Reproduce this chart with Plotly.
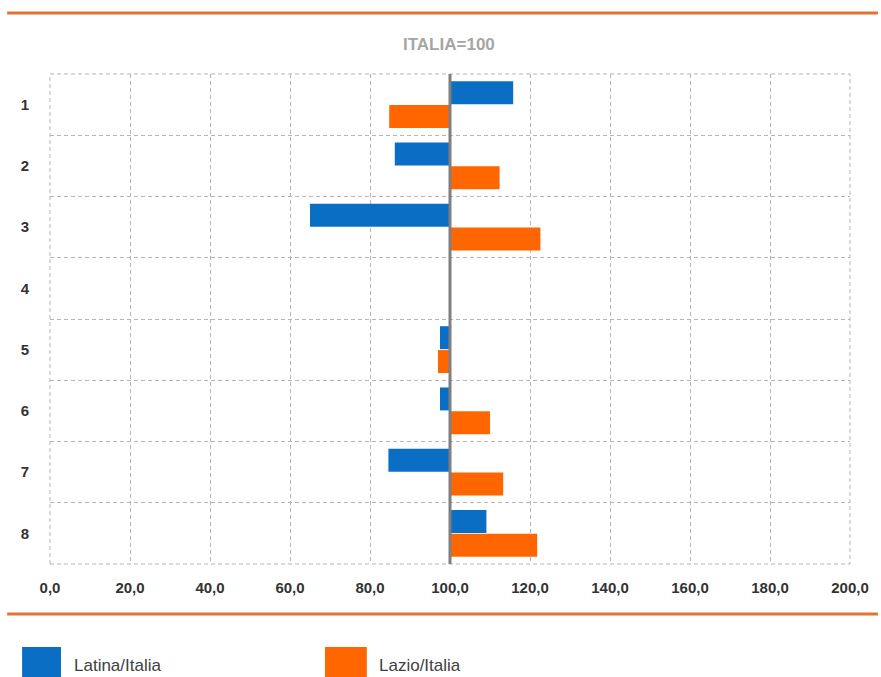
import plotly.graph_objects as go

categories = ["1", "2", "3", "4", "5", "6", "7", "8"]
latina = [115.8, 86.2, 65.0, None, 97.5, 97.5, 84.6, 109.1]
lazio = [84.8, 112.4, 122.6, None, 97.0, 110.0, 113.3, 121.8]
x_ticks = [0, 20, 40, 60, 80, 100, 120, 140, 160, 180, 200]
series_names = ["Latina/Italia", "Lazio/Italia"]
colors = ["#0A6FC4", "#FF6600"]
base_value = 100

W, H = 881, 677
L, R, T, B = 50, 853, 74, 564
FONT = "Liberation Sans, Arial, sans-serif"


def px(x):
    return (x - L) / (R - L)


def py(y):
    return (B - y) / (B - T)


fig = go.Figure()
for name, vals, col in zip(series_names, [latina, lazio], colors):
    fig.add_trace(go.Bar(
        y=categories,
        x=[None if v is None else v - base_value for v in vals],
        base=base_value,
        orientation="h",
        name=name,
        marker=dict(color=col, line=dict(width=0)),
        showlegend=False,
        hoverinfo="skip",
    ))

shapes = []
shapes.append(dict(type="rect", xref="paper", yref="paper", x0=0, x1=1, y0=0, y1=1,
                   line=dict(color="#B5B5B5", width=1, dash="4px,3px"), layer="below"))
shapes.append(dict(type="line", xref="x", yref="paper", x0=base_value, x1=base_value, y0=0, y1=1,
                   line=dict(color="#7F7F7F", width=3), layer="above"))
for yy in (13, 614):
    shapes.append(dict(type="line", xref="paper", yref="paper", x0=px(7), x1=px(881), y0=py(yy), y1=py(yy),
                       line=dict(color="#E2722E", width=3)))
legend_x = [(22, 61), (326, 368)]
for (x0, x1), col in zip(legend_x, colors):
    shapes.append(dict(type="rect", xref="paper", yref="paper", x0=px(x0), x1=px(x1), y0=py(690), y1=py(647),
                       fillcolor=col, line=dict(width=0)))

annotations = [
    dict(text="<b>ITALIA=100</b>", xref="paper", yref="paper", x=px(450), y=py(45),
         xanchor="center", yanchor="middle",
         showarrow=False, font=dict(size=17, color="#A6A6A6", family=FONT)),
]
text_x = [72, 378]
for tx, name in zip(text_x, series_names):
    annotations.append(dict(text=name, xref="paper", yref="paper", x=px(tx), y=py(665),
                            xanchor="left", yanchor="middle",
                            showarrow=False,
                            font=dict(size=17, color="#404040", family=FONT)))

fig.update_layout(
    width=W, height=H,
    margin=dict(l=L, r=W - R, t=T, b=H - B, pad=0),
    paper_bgcolor="white", plot_bgcolor="white",
    barmode="group", bargap=0.22, bargroupgap=0.04,
    separators=",.",
    shapes=shapes, annotations=annotations,
    font=dict(family=FONT),
    xaxis=dict(range=[0, 200], tickvals=x_ticks, tickformat=".1f",
               showgrid=True, gridcolor="#B5B5B5", griddash="4px,3px", gridwidth=1,
               zeroline=False, showline=False,
               ticks="outside", ticklen=10, tickcolor="rgba(0,0,0,0)",
               tickfont=dict(size=15, color="#333333", family=FONT, weight="bold")),
    yaxis=dict(categoryorder="array", categoryarray=categories, range=[7.5, -0.5],
               tickson="boundaries", showgrid=True, gridcolor="#B5B5B5", griddash="4px,3px", gridwidth=1,
               zeroline=False, showline=False, ticks="",
               ticklabelstandoff=20,
               tickfont=dict(size=15, color="#333333", family=FONT, weight="bold")),
)

fig.write_html("out.html", config={"displayModeBar": False},
               post_script="document.body.style.margin='0';")
